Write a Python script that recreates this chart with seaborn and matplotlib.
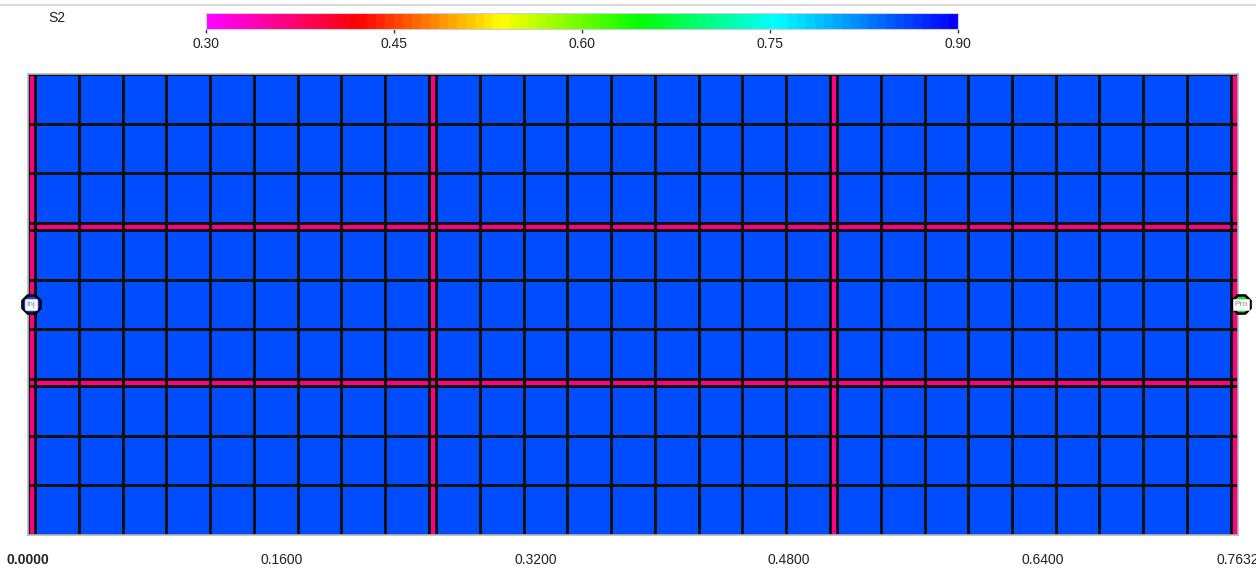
import numpy as np
import matplotlib
matplotlib.use("Agg")
import matplotlib.pyplot as plt
from matplotlib.colors import LinearSegmentedColormap, Normalize
from matplotlib.cm import ScalarMappable
from matplotlib.lines import Line2D
import seaborn as sns

# ---------------- data ----------------
x_ticks = [0.0, 0.16, 0.32, 0.48, 0.64, 0.7632]
x_tick_labels = ["0.0000", "0.1600", "0.3200", "0.4800", "0.6400", "0.7632"]
cbar_ticks = [0.30, 0.45, 0.60, 0.75, 0.90]
cbar_tick_labels = ["0.30", "0.45", "0.60", "0.75", "0.90"]
cbar_label = "S2"
s2_min, s2_max = 0.30, 0.90

frac_w = 0.0046
cell_w = 0.027585
cell_h = 0.0278
frac_h = 0.0042
col_widths = [frac_w] + [cell_w] * 9 + [frac_w] + [cell_w] * 9 + [frac_w] + [cell_w] * 9 + [frac_w]
row_heights = [cell_h] * 3 + [frac_h] + [cell_h] * 3 + [frac_h] + [cell_h] * 3
col_is_fracture = [1] + [0] * 9 + [1] + [0] * 9 + [1] + [0] * 9 + [1]
row_is_fracture = [0] * 3 + [1] + [0] * 3 + [1] + [0] * 3
matrix_s2 = 0.85
fracture_s2 = 0.36

well_names = ["Inj", "Pro"]
well_x = [0.0, 0.7632]
well_row = [5, 5]
well_colors = ["#1a3cff", "#22dd22"]

# colormap anchors (value, colour)
cmap_values = [0.30, 0.42, 0.535, 0.646, 0.757, 0.90]
cmap_colors = ["#ff00ff", "#ff0000", "#ffff00", "#00ff00", "#00ffff", "#0000ff"]

# ---------------- build ----------------
sns.set_theme(style="white")
plt.rcParams['font.family'] = ['Liberation Sans', 'DejaVu Sans']

x_edges = np.concatenate([[0.0], np.cumsum(col_widths)])
y_edges = np.concatenate([[0.0], np.cumsum(row_heights)])
frac_mask = np.logical_or(np.array(row_is_fracture)[:, None] == 1,
                          np.array(col_is_fracture)[None, :] == 1)
s2 = np.where(frac_mask, fracture_s2, matrix_s2)

pos = [(v - s2_min) / (s2_max - s2_min) for v in cmap_values]
cmap = LinearSegmentedColormap.from_list("s2", list(zip(pos, cmap_colors)), N=84)
norm = Normalize(vmin=s2_min, vmax=s2_max)

fig = plt.figure(figsize=(12.56, 5.69), dpi=100)
fig.patch.set_facecolor("white")
ax = fig.add_axes([28 / 1256, 34 / 569, 1210 / 1256, 461 / 569])

ax.pcolormesh(x_edges, y_edges, s2, cmap=cmap, norm=norm,
              edgecolors="#111111", linewidth=0.8)
ax.set_xlim(0, x_edges[-1])
ax.set_ylim(y_edges[-1], 0)
ax.set_xticks(x_ticks)
ax.set_xticklabels(x_tick_labels, fontsize=10, color="#222222")
ax.get_xticklabels()[0].set_fontweight("bold")
ax.tick_params(axis="x", length=0, pad=13)
ax.set_yticks([])
for sp in ax.spines.values():
    sp.set_color("#bbbbbb")
    sp.set_linewidth(1.2)

# wells
for name, wx, wr, wc in zip(well_names, well_x, well_row, well_colors):
    wy = (y_edges[wr] + y_edges[wr + 1]) / 2
    ax.scatter([wx + 0.002], [wy], s=200, marker="8", facecolor=wc, edgecolor="black",
               linewidth=1.8, zorder=5, clip_on=False)
    ax.text(wx + 0.002, wy, name, fontsize=6, color="#888888", ha="center", va="center",
            zorder=6, clip_on=False,
            bbox=dict(boxstyle="square,pad=0.2", fc="white", ec="#e0e0e0", lw=0.5))

# colorbar
cax = fig.add_axes([206 / 1256, (569 - 29) / 569, 752 / 1256, 16 / 569])
cb = fig.colorbar(ScalarMappable(norm=norm, cmap=cmap), cax=cax, orientation="horizontal")
cb.set_ticks(cbar_ticks)
cb.set_ticklabels(cbar_tick_labels)
cax.tick_params(axis="x", length=3, width=1, color="#333333", labelsize=10,
                labelcolor="#222222", pad=3, direction="out")
cb.outline.set_edgecolor("#ccccdd")
cb.outline.set_linewidth(0.8)
fig.text(48 / 1256, 1 - 18 / 569, cbar_label, fontsize=10, color="#222222",
         ha="left", va="center")

# top separator line
fig.add_artist(Line2D([0, 1], [1 - 5 / 569, 1 - 5 / 569], color="#d9d9d9",
                      linewidth=1.5, transform=fig.transFigure))

fig.savefig("out.png", dpi=100, facecolor="white")
